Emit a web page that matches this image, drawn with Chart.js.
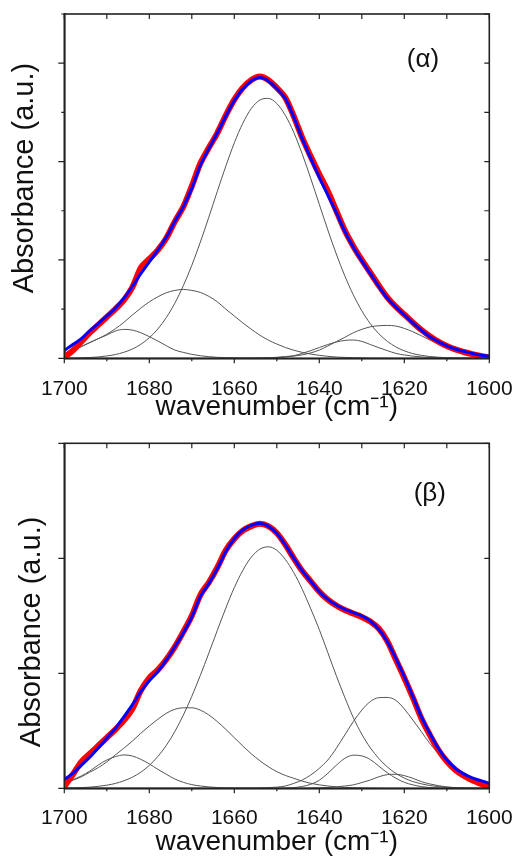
<!DOCTYPE html>
<html>
<head>
<meta charset="utf-8">
<script src="https://cdn.jsdelivr.net/npm/chart.js@4.4.1/dist/chart.umd.min.js"></script>
<style>
  html, body { margin: 0; padding: 0; background: #ffffff; }
  body { width: 517px; height: 859px; position: relative; overflow: hidden; }
  canvas { position: absolute; left: 0; }
</style>
</head>
<body>
<canvas id="cTop" width="517" height="430" style="top:0px"></canvas>
<canvas id="cBot" width="517" height="439" style="top:420px"></canvas>
<script>
// ---------- data ----------
const wavenumbers = [1700,1698,1696,1694,1692,1690,1688,1686,1684,1682,
  1680,1678,1676,1674,1672,1670,1668,1666,1664,1662,
  1660,1658,1656,1654,1652,1650,1648,1646,1644,1642,
  1640,1638,1636,1634,1632,1630,1628,1626,1624,1622,
  1620,1618,1616,1614,1612,1610,1608,1606,1604,1602,
  1600];

const xTickLabels = [1700,1680,1660,1640,1620,1600];
const xTickMarks = [1700,1690,1680,1670,1660,1650,1640,1630,1620,1610,1600];
const yTickMarksTop = [0,0.5,1,1.5,2,2.5,3,3.5];
const yTickMarksBot = [0,1,2,3];

// panel (alpha)
const alphaFit = [0.08,0.14,0.20,0.28,0.355,0.43,0.51,0.61,0.73,0.86,
  0.98,1.10,1.23,1.39,1.54,1.73,1.96,2.13,2.29,2.46,
  2.62,2.74,2.82,2.855,2.82,2.74,2.64,2.45,2.23,2.03,
  1.84,1.66,1.48,1.29,1.13,0.99,0.86,0.73,0.61,0.52,
  0.44,0.36,0.285,0.22,0.17,0.127,0.095,0.07,0.048,0.032,
  0.02];
const alphaData = [0.01,0.08,0.17,0.26,0.34,0.42,0.50,0.59,0.72,0.92,
  1.01,1.10,1.22,1.39,1.54,1.75,1.98,2.14,2.29,2.47,
  2.63,2.75,2.83,2.865,2.83,2.75,2.65,2.46,2.24,2.05,
  1.87,1.70,1.50,1.30,1.14,1.00,0.87,0.74,0.62,0.525,
  0.445,0.365,0.29,0.225,0.17,0.125,0.09,0.064,0.042,0.024,
  0.008];
const alphaBand1652 = [0.002,0.003,0.005,0.008,0.014,0.024,0.038,0.061,0.094,0.142,
  0.209,0.298,0.414,0.56,0.738,0.945,1.18,1.434,1.697,1.953,
  2.19,2.389,2.539,2.625,2.642,2.59,2.47,2.296,2.075,1.826,
  1.565,1.305,1.06,0.838,0.645,0.483,0.352,0.25,0.173,0.116,
  0.076,0.048,0.03,0.018,0.011,0.006,0.004,0.002,0.001,0.001,
  0];
const alphaBand1672 = [0.05,0.085,0.12,0.16,0.20,0.245,0.30,0.365,0.44,0.51,
  0.574,0.625,0.666,0.69,0.70,0.69,0.67,0.63,0.574,0.50,
  0.43,0.36,0.295,0.235,0.185,0.145,0.11,0.082,0.06,0.043,
  0.03,0.02,0.013,0.009,0.006,0.004,0.002,0.001,0.001,0,
  0,0,0,0,0,0,0,0,0,0,
  0];
const alphaBand1685 = [0.05,0.08,0.118,0.16,0.20,0.236,0.277,0.294,0.287,0.26,
  0.22,0.176,0.128,0.084,0.06,0.04,0.026,0.017,0.01,0.007,
  0.005,0.003,0.002,0.001,0.001,0,0,0,0,0,
  0,0,0,0,0,0,0,0,0,0,
  0,0,0,0,0,0,0,0,0,0,
  0];
const alphaBand1632 = [0,0,0,0,0,0,0,0,0,0,
  0,0,0,0,0,0,0,0,0,0,
  0,0.001,0.002,0.004,0.006,0.01,0.018,0.027,0.05,0.078,
  0.11,0.14,0.165,0.182,0.186,0.172,0.14,0.108,0.078,0.05,
  0.034,0.022,0.014,0.008,0.005,0.003,0.002,0.001,0,0,
  0];
const alphaBand1624 = [0,0,0,0,0,0,0,0,0,0,
  0,0,0,0,0,0,0,0,0,0,
  0,0,0.001,0.002,0.004,0.008,0.013,0.022,0.035,0.055,
  0.084,0.125,0.17,0.213,0.26,0.294,0.32,0.331,0.334,0.328,
  0.304,0.27,0.23,0.186,0.152,0.118,0.09,0.068,0.047,0.034,
  0.024];

// panel (beta)
const betaFit = [0.078,0.13,0.20,0.27,0.35,0.435,0.52,0.62,0.725,0.84,
  0.936,1.015,1.116,1.23,1.35,1.49,1.667,1.78,1.91,2.06,
  2.17,2.246,2.287,2.304,2.28,2.217,2.116,2.0,1.89,1.80,
  1.71,1.643,1.594,1.557,1.527,1.50,1.455,1.383,1.275,1.13,
  0.97,0.80,0.623,0.478,0.348,0.246,0.174,0.125,0.09,0.067,
  0.043];
const betaData = [0.015,0.12,0.23,0.30,0.37,0.44,0.51,0.59,0.69,0.85,
  0.96,1.03,1.12,1.23,1.36,1.50,1.68,1.79,1.92,2.07,
  2.17,2.24,2.28,2.30,2.28,2.22,2.12,2.00,1.89,1.80,
  1.71,1.64,1.59,1.55,1.52,1.49,1.45,1.39,1.28,1.12,
  0.96,0.79,0.61,0.465,0.335,0.235,0.16,0.11,0.07,0.04,
  0.01];
const betaBand1652 = [0.002,0.004,0.006,0.01,0.017,0.027,0.042,0.065,0.096,0.14,
  0.199,0.276,0.373,0.493,0.636,0.80,0.981,1.175,1.373,1.567,
  1.745,1.895,2.01,2.079,2.10,2.07,1.99,1.875,1.73,1.56,
  1.38,1.18,0.98,0.79,0.615,0.47,0.352,0.259,0.186,0.13,
  0.089,0.059,0.039,0.024,0.015,0.009,0.005,0.003,0.002,0.001,
  0.001];
const betaBand1671 = [0.043,0.07,0.10,0.14,0.18,0.23,0.29,0.348,0.41,0.478,
  0.542,0.60,0.652,0.687,0.70,0.70,0.68,0.638,0.58,0.513,
  0.44,0.368,0.30,0.24,0.188,0.145,0.112,0.087,0.062,0.043,
  0.03,0.02,0.013,0.008,0.005,0.003,0.002,0.001,0,0,
  0,0,0,0,0,0,0,0,0,0,
  0];
const betaBand1686 = [0.043,0.075,0.107,0.15,0.203,0.246,0.275,0.29,0.281,0.252,
  0.212,0.165,0.122,0.081,0.052,0.032,0.02,0.012,0.007,0.004,
  0.002,0.001,0,0,0,0,0,0,0,0,
  0,0,0,0,0,0,0,0,0,0,
  0,0,0,0,0,0,0,0,0,0,
  0];
const betaBand1631 = [0,0,0,0,0,0,0,0,0,0,
  0,0,0,0,0,0,0,0,0,0,
  0,0,0,0,0,0,0.002,0.006,0.016,0.035,
  0.07,0.13,0.20,0.26,0.288,0.282,0.25,0.193,0.135,0.088,
  0.052,0.03,0.015,0.006,0.003,0.001,0,0,0,0,
  0];
const betaBand1625 = [0,0,0,0,0,0,0,0,0,0,
  0,0,0,0,0,0,0,0,0,0,
  0,0.001,0.002,0.003,0.006,0.01,0.02,0.043,0.072,0.116,
  0.174,0.246,0.348,0.464,0.58,0.68,0.754,0.788,0.79,0.765,
  0.69,0.594,0.493,0.39,0.304,0.223,0.16,0.116,0.081,0.058,
  0.04];
const betaBand1622 = [0,0,0,0,0,0,0,0,0,0,
  0,0,0,0,0,0,0,0,0,0,
  0,0,0,0,0,0,0,0,0.001,0.002,
  0.004,0.007,0.012,0.02,0.03,0.05,0.072,0.10,0.119,0.122,
  0.11,0.087,0.058,0.038,0.023,0.012,0.006,0.003,0.001,0,
  0];

// ---------- chart building ----------
Chart.defaults.font.family = '"Liberation Sans", Arial, sans-serif';
Chart.defaults.color = '#111';

function pts(arr) { return wavenumbers.map((w, i) => ({ x: w, y: arr[i] })); }

const framePlugin = {
  id: 'frameTicks',
  afterDraw(chart, args, o) {
    const { ctx, chartArea: a, scales: { x, y } } = chart;
    ctx.save();
    ctx.strokeStyle = '#222';
    ctx.lineWidth = 1.2;
    ctx.beginPath();
    for (const v of o.xTicks) {
      const px = x.getPixelForValue(v);
      const major = v % 20 === 0;
      ctx.moveTo(px, a.bottom); ctx.lineTo(px, a.bottom + (major ? 5 : 3));
      ctx.moveTo(px, a.top); ctx.lineTo(px, a.top + 5);
    }
    for (const v of o.yTicks) {
      const py = y.getPixelForValue(v);
      const major = Number.isInteger(v);
      ctx.moveTo(a.left, py); ctx.lineTo(a.left - (major ? 6 : 3), py);
      ctx.moveTo(a.right, py); ctx.lineTo(a.right - 5, py);
    }
    ctx.stroke();
    ctx.lineWidth = 1.6;
    ctx.strokeRect(a.left, a.top, a.right - a.left, a.bottom - a.top);
    ctx.fillStyle = '#111';
    ctx.font = '26px "Liberation Sans", Arial, sans-serif';
    ctx.textAlign = 'center';
    ctx.textBaseline = 'middle';
    ctx.fillText(o.label, x.getPixelForValue(o.lx), y.getPixelForValue(o.ly));
    ctx.restore();
  }
};

function makeChart(id, cfg) {
  const gray = { borderColor: '#555555', borderWidth: 1, pointRadius: 0,
    cubicInterpolationMode: 'monotone', fill: false, order: 3 };
  const datasets = [
    { label: 'fit', data: pts(cfg.fit), borderColor: '#0000ff', borderWidth: 3,
      pointRadius: 0, cubicInterpolationMode: 'monotone', fill: false, order: 0 },
    { label: 'data', data: pts(cfg.data), borderColor: '#ff0000', borderWidth: 6,
      pointRadius: 0, cubicInterpolationMode: 'monotone', fill: false, order: 1,
      borderJoinStyle: 'round', borderCapStyle: 'round' }
  ];
  cfg.bands.forEach((b, i) => datasets.push(Object.assign({ label: 'band ' + (i + 1), data: pts(b) }, gray)));

  return new Chart(document.getElementById(id), {
    type: 'line',
    data: { datasets },
    options: {
      responsive: false,
      animation: false,
      events: [],
      layout: { padding: cfg.padding },
      plugins: {
        legend: { display: false },
        tooltip: { enabled: false },
        frameTicks: { xTicks: xTickMarks, yTicks: cfg.yTicks, label: cfg.label, lx: cfg.lx, ly: cfg.ly }
      },
      scales: {
        x: {
          type: 'linear', reverse: true, min: 1600, max: 1700,
          afterBuildTicks: (s) => { s.ticks = xTickLabels.map(v => ({ value: v })); },
          ticks: { font: { size: 21 }, color: '#111', padding: cfg.tickPad, maxRotation: 0,
                   autoSkip: false, callback: (v) => String(v) },
          grid: { display: false },
          border: { display: true, color: '#222', width: 1.6 },
          title: { display: true, text: 'wavenumber (cm\u207B\u00B9)', color: '#111',
                   font: { size: 28, lineHeight: 0.8 }, padding: 0 },
          afterFit: (s) => { s.height = cfg.xH; s.paddingLeft = 0; s.paddingRight = 0; }
        },
        y: {
          min: 0, max: cfg.ymax,
          ticks: { display: false, stepSize: 0.5 },
          grid: { display: false },
          border: { display: true, color: '#222', width: 1.6 },
          title: { display: true, text: cfg.yTitle, color: '#111',
                   font: { size: 29, lineHeight: 0.8 }, padding: { top: cfg.yTitlePad, bottom: 0 } },
          afterFit: (s) => { s.width = 64.3; s.paddingTop = 0; s.paddingBottom = 0; }
        }
      }
    },
    plugins: [framePlugin]
  });
}

makeChart('cTop', {
  fit: alphaFit, data: alphaData,
  bands: [alphaBand1652, alphaBand1672, alphaBand1685, alphaBand1632, alphaBand1624],
  ymax: 3.5, yTicks: yTickMarksTop, label: '(\u03B1)', lx: 1615.6, ly: 3.03,
  yTitle: '  Absorbance (a.u.)',
  padding: { top: 14, right: 27.7, bottom: 11.7, left: 0 }, xH: 60, tickPad: 10, yTitlePad: 13
});
makeChart('cBot', {
  fit: betaFit, data: betaData,
  bands: [betaBand1652, betaBand1671, betaBand1686, betaBand1631, betaBand1625, betaBand1622],
  ymax: 3, yTicks: yTickMarksBot, label: '(\u03B2)', lx: 1614.0, ly: 2.56,
  yTitle: 'Absorbance (a.u.)    ',
  padding: { top: 23.3, right: 27.7, bottom: 5.7, left: 0 }, xH: 65, tickPad: 9, yTitlePad: 20.5
});
</script>
</body>
</html>
